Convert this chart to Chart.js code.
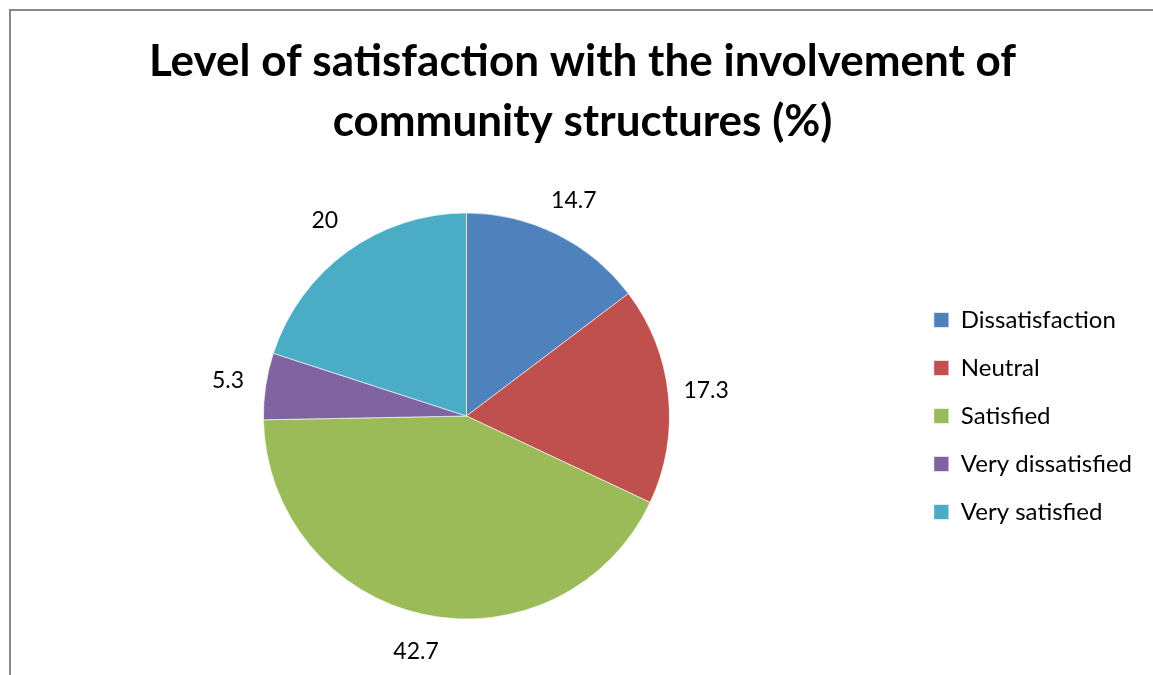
<!DOCTYPE html>
<html>
<head>
<meta charset="utf-8">
<script src="https://cdn.jsdelivr.net/npm/chart.js@4"></script>
<style>
    html, body { margin: 0; padding: 0; background: #fff; overflow: hidden; }
    #wrap { position: relative; width: 1153px; height: 675px; }
    /* marco gris del área del gráfico */
    #frame {
        position: absolute; left: 9px; top: 9px;
        width: 1400px; height: 900px;
        border: 2px solid #898989;
        pointer-events: none;
    }
    #chartBox { position: absolute; left: 0; top: 0; width: 1153px; height: 675px; }
</style>
</head>
<body>
<div id="wrap">
    <div id="frame"></div>
    <div id="chartBox"><canvas id="pieChart"></canvas></div>
</div>
<script>
const TITLE_LINES = [
    'Level of satisfaction with the involvement of',
    'community structures (%)'
];
const CATEGORIES = ['Dissatisfaction', 'Neutral', 'Satisfied', 'Very dissatisfied', 'Very satisfied'];
const VALUES = [14.7, 17.3, 42.7, 5.3, 20];
const COLORS = ['#4F81BD', '#C0504D', '#9BBB59', '#8064A2', '#4BACC6'];

const FONT = 'Lato';

// Etiquetas de valor fuera de cada porción
const outsideLabels = {
    id: 'outsideLabels',
    afterDatasetsDraw(chart) {
        const ctx = chart.ctx;
        const meta = chart.getDatasetMeta(0);
        const data = chart.data.datasets[0].data;
        ctx.save();
        ctx.font = '23px ' + FONT;
        ctx.fillStyle = '#000';
        ctx.textAlign = 'center';
        ctx.textBaseline = 'middle';
        meta.data.forEach((arc, i) => {
            const p = arc.getProps(['x', 'y', 'startAngle', 'endAngle', 'outerRadius'], true);
            const mid = (p.startAngle + p.endAngle) / 2;
            const dist = p.outerRadius + 38;
            ctx.fillText(String(data[i]), p.x + Math.cos(mid) * dist, p.y + Math.sin(mid) * dist);
        });
        ctx.restore();
    }
};

const ctx = document.getElementById('pieChart').getContext('2d');
new Chart(ctx, {
    type: 'pie',
    data: {
        labels: CATEGORIES,
        datasets: [{
            data: VALUES,
            backgroundColor: COLORS,
            borderColor: 'rgba(255,255,255,0.6)',
            borderWidth: 1,
            hoverOffset: 0,
            radius: 203
        }]
    },
    options: {
        responsive: true,
        maintainAspectRatio: false,
        animation: false,
        layout: { padding: { left: 23, right: 11, top: 0, bottom: 0 } },
        plugins: {
            tooltip: { enabled: false },
            title: {
                display: true,
                text: TITLE_LINES,
                color: '#000',
                font: { family: FONT, size: 44, weight: 'bold', lineHeight: 60 / 44 },
                padding: { top: 32, bottom: 5 }
            },
            legend: {
                position: 'right',
                align: 'center',
                fullSize: false,
                labels: {
                    color: '#000',
                    font: { family: FONT, size: 24 },
                    boxWidth: 15,
                    boxHeight: 15,
                    padding: 24
                }
            }
        }
    },
    plugins: [outsideLabels]
});
</script>
</body>
</html>
